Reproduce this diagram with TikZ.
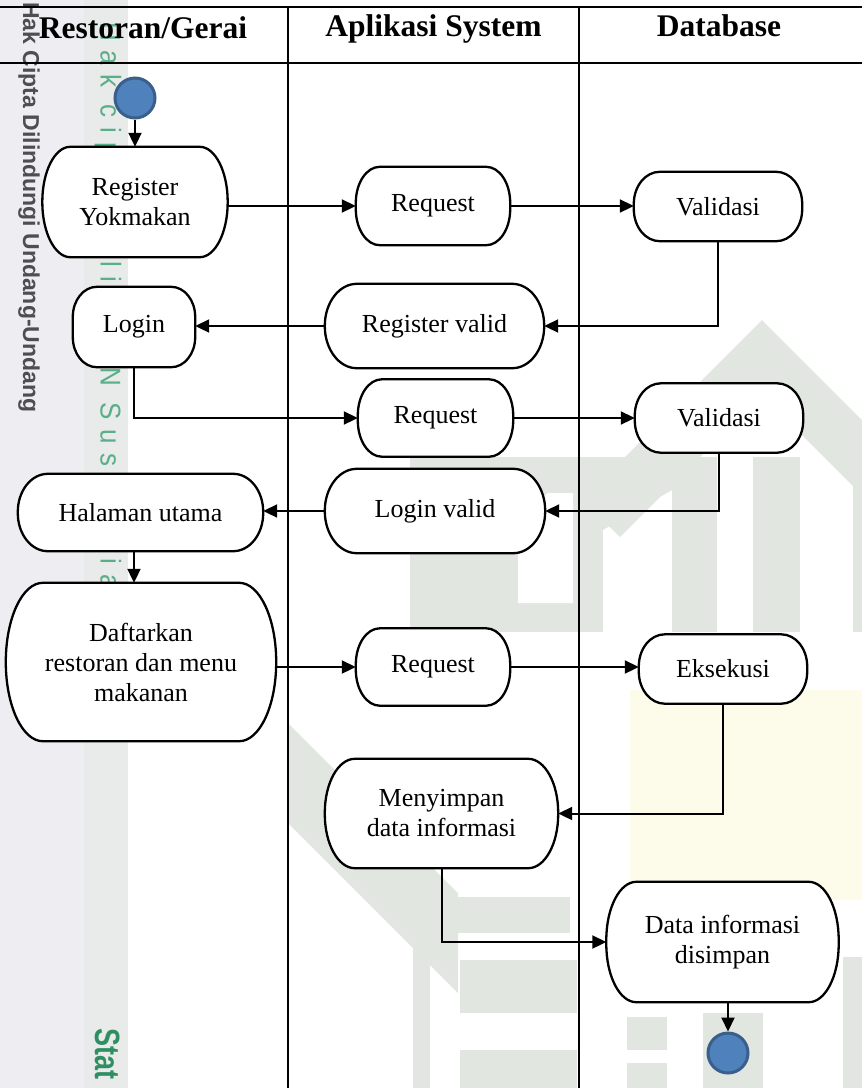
\documentclass[tikz,border=0pt]{standalone}
\usepackage{graphicx}
\usepackage{fontspec}
\setmainfont{Liberation Serif}
\newfontfamily\wmsans{Liberation Sans}
\newfontfamily\wmspaced[LetterSpace=37]{Liberation Sans}
\usetikzlibrary{arrows.meta}

\definecolor{termfill}{HTML}{4F81BD}
\definecolor{termdraw}{HTML}{3A5F8B}
\definecolor{stripA}{HTML}{EEEEF2}
\definecolor{stripB}{HTML}{E8EBE9}
\definecolor{wmgray}{HTML}{E1E6E1}
\definecolor{wmcream}{HTML}{FDFCEA}
\definecolor{wmgreen}{HTML}{5AAE88}
\definecolor{wmgreendark}{HTML}{2F8F62}
\definecolor{wmdarktext}{HTML}{4E4E52}

\pgfdeclarelayer{wm}
\pgfdeclarelayer{shapes}
\pgfsetlayers{wm,shapes,main}

% activity outline: straight edges with elliptical corners (node, rx, ry)
\newcommand\actbox[3]{%
  \draw[boxline] ([xshift=#2]#1.north west) -- ([xshift=-#2]#1.north east)
    arc[start angle=90,end angle=0,x radius=#2,y radius=#3]
    -- ([yshift=#3]#1.south east)
    arc[start angle=0,end angle=-90,x radius=#2,y radius=#3]
    -- ([xshift=#2]#1.south west)
    arc[start angle=270,end angle=180,x radius=#2,y radius=#3]
    -- ([yshift=-#3]#1.north west)
    arc[start angle=180,end angle=90,x radius=#2,y radius=#3] -- cycle;}

\begin{document}
\begin{tikzpicture}[x=1pt,y=1pt,
  act/.style={inner sep=0pt, align=center, font=\fontsize{26}{30}\selectfont},
  lanehead/.style={inner sep=0pt, anchor=base, font=\fontsize{31.5}{36}\selectfont\bfseries},
  flow/.style={line width=2pt, -{Triangle[length=14pt,width=13pt]}},
  lane/.style={line width=2pt},
  boxline/.style={line width=2.3pt, fill=white},
  terminal/.style={circle, minimum size=40pt, inner sep=0pt, fill=termfill, draw=termdraw, line width=3pt},
  wmtext/.style={rotate=-90, anchor=west, inner sep=0pt}]

\useasboundingbox (0,0) rectangle (862,-1088);

% ---------- page background (margin strip and faint logo) ----------
\begin{pgfonlayer}{wm}
\begin{scope}
\clip (0,0) rectangle (862,-1088);
\fill[stripA] (0,0) rectangle (84,-1088);
\fill[stripB] (84,0) rectangle (128,-1088);
% roof
\fill[wmgray] (762,-320) -- (862,-420) -- (862,-495) -- (762,-395) -- (620,-537) -- (582,-500) -- cycle;
% pillars
\fill[wmgray] (410,-457) rectangle (603,-632);
\fill[white] (518,-520) -- (548,-493) -- (573,-493) -- (573,-603) -- (518,-603) -- cycle;
\fill[wmgray] (603,-457) -- (672,-457) -- (672,-490) -- (603,-530) -- cycle;
\fill[wmgray] (672,-457) rectangle (717,-632);
\fill[wmgray] (753,-457) rectangle (800,-632);
\fill[wmgray] (853,-457) rectangle (862,-632);
% ornament area
\fill[wmcream] (630,-690) rectangle (862,-900);
% lower letters
\fill[wmgray] (288,-723) -- (458,-893) -- (458,-993) -- (288,-823) -- cycle;
\fill[wmgray] (457,-897) rectangle (570,-933);
\fill[wmgray] (460,-960) rectangle (577,-1013);
\fill[wmgray] (460,-1050) rectangle (577,-1088);
\fill[wmgray] (413,-933) rectangle (430,-1088);
\fill[wmgray] (627,-1017) rectangle (667,-1050);
\fill[wmgray] (627,-1063) rectangle (667,-1088);
\fill[wmgray] (703,-1013) rectangle (763,-1088);
\fill[wmgray] (843,-957) rectangle (862,-1088);
% margin texts
\node[wmtext, text=wmdarktext, font=\wmsans\bfseries\fontsize{23}{23}\selectfont] (wmcopy) at (29,-2) {Hak Cipta Dilindungi Undang-Undang};
\node[wmtext, text=wmgreen, font=\wmspaced\fontsize{26}{26}\selectfont] (wmowner) at (108,-22) {\scalebox{1}[1.1]{Hak cipta milik UIN Suska Riau}};
\node[wmtext, text=wmgreendark, font=\wmsans\bfseries\fontsize{27}{27}\selectfont] (wmuniv) at (108,-1028) {\scalebox{1}[1.3]{Stat}};
\end{scope}
\end{pgfonlayer}

% ---------- swimlane grid ----------
\begin{pgfonlayer}{shapes}
\draw[lane] (0,-7) -- (862,-7);
\draw[lane] (0,-63) -- (862,-63);
\draw[lane] (288,-7) -- (288,-1088);
\draw[lane] (579,-7) -- (579,-1088);
\end{pgfonlayer}

\node[lanehead] (h1) at (143,-38) {Restoran/Gerai};
\node[lanehead] (h2) at (433.5,-36) {Aplikasi System};
\node[lanehead] (h3) at (719,-36) {Database};

% ---------- activities ----------
\node[terminal] (start) at (135,-98) {};
\node[act, minimum width=185, minimum height=110] (reg) at (135,-202) {Register\\Yokmakan};
\node[act, minimum width=154, minimum height=78] (req1) at (433,-206) {Request};
\node[act, minimum width=168, minimum height=69] (val1) at (718,-206.5) {Validasi};
\node[act, minimum width=122, minimum height=80] (login) at (134,-327) {Login};
\node[act, minimum width=219, minimum height=84] (regvalid) at (434.5,-326) {Register valid};
\node[act, minimum width=155, minimum height=77] (req2) at (435.5,-418) {Request};
\node[act, minimum width=168, minimum height=69] (val2) at (719,-418) {Validasi};
\node[act, minimum width=245, minimum height=77] (home) at (140.5,-512.5) {Halaman utama};
\node[act, minimum width=220, minimum height=84] (loginvalid) at (435,-511) {Login valid};
\node[act, minimum width=270, minimum height=158] (daftar) at (141,-662) {Daftarkan\\restoran dan menu\\makanan};
\node[act, minimum width=154, minimum height=77] (req3) at (433,-667) {Request};
\node[act, minimum width=168, minimum height=69] (eks) at (723,-669) {Eksekusi};
\node[act, minimum width=233, minimum height=109] (simpan) at (441.5,-813.5) {Menyimpan\\data informasi};
\node[act, minimum width=232, minimum height=120] (disimpan) at (722.5,-942) {Data informasi\\disimpan};
\node[terminal] (end) at (728,-1053) {};

\begin{pgfonlayer}{shapes}
\foreach \n/\rx/\ry in {reg/28/55, req1/24/36, val1/26/32, login/24/30,
    regvalid/32/42, req2/24/36, val2/26/32, home/30/38, loginvalid/32/42,
    daftar/37/79, req3/24/36, eks/26/32, simpan/30/54, disimpan/30/58}
  {\actbox{\n}{\rx}{\ry}}
\end{pgfonlayer}

% ---------- control flow ----------
\draw[flow] (start.south) -- (start.south |- reg.north);
\draw[flow] (reg.east |- req1.west) -- (req1.west);
\draw[flow] (req1.east) -- (req1.east -| val1.west);
\draw[flow] (val1.south) |- (regvalid.east);
\draw[flow] (regvalid.west) -- (regvalid.west -| login.east);
\draw[flow] (login.south) |- (req2.west);
\draw[flow] (req2.east) -- (req2.east -| val2.west);
\draw[flow] (val2.south) |- (loginvalid.east);
\draw[flow] (loginvalid.west) -- (loginvalid.west -| home.east);
\draw[flow] (home.south -| login.south) -- (daftar.north -| login.south);
\draw[flow] (daftar.east |- req3.west) -- (req3.west);
\draw[flow] (req3.east) -- (req3.east -| eks.west);
\draw[flow] (eks.south) |- (simpan.east);
\draw[flow] (simpan.south) |- (disimpan.west);
\draw[flow] (disimpan.south -| end) -- (end.north);
\end{tikzpicture}
\end{document}
